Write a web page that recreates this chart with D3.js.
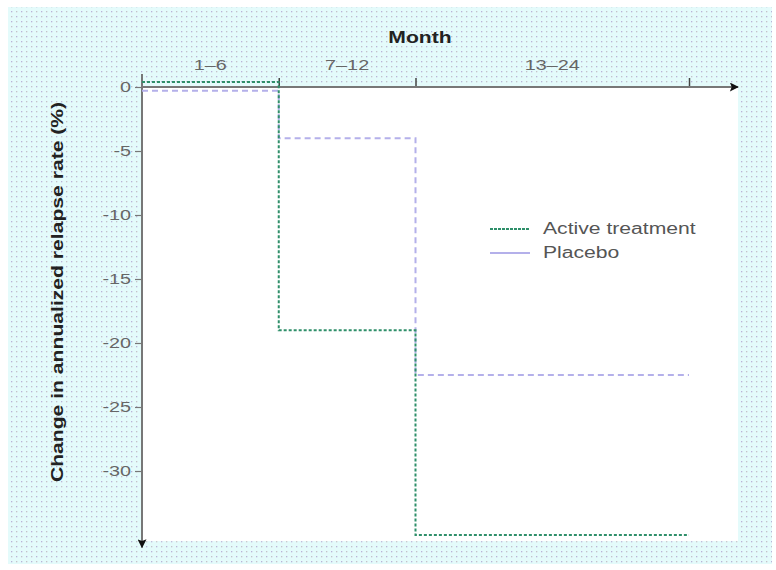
<!DOCTYPE html>
<html><head><meta charset="utf-8">
<script src="https://cdn.jsdelivr.net/npm/d3@7/dist/d3.min.js"></script>
<style>body{margin:0;background:#fff}svg{display:block}</style>
</head><body><svg id="c" width="776" height="570"></svg>
<script>
const periodBounds = [0, 6, 12, 24];
const periodLabels = ["1–6", "7–12", "13–24"];
const activeValues = [0.4, -19, -35];
const placeboValues = [-0.3, -4, -22.5];
const yTicks = [0, -5, -10, -15, -20, -25, -30];
const seriesNames = ["Active treatment", "Placebo"];

const svg = d3.select("#c");
const font = "'Liberation Sans', Arial, sans-serif";
const defs = svg.append("defs");
const pat = defs.append("pattern").attr("id","dots").attr("patternUnits","userSpaceOnUse")
  .attr("width",10).attr("height",10);
pat.append("rect").attr("width",10).attr("height",10).attr("fill","#e4fbfb");
pat.append("rect").attr("x",1).attr("y",1).attr("width",1.3).attr("height",1.3).attr("fill","#b9b2d8");
pat.append("rect").attr("x",6).attr("y",1).attr("width",1.3).attr("height",1.3).attr("fill","#c4c2c8");
pat.append("rect").attr("x",1).attr("y",6).attr("width",1.3).attr("height",1.3).attr("fill","#c4c2c8");
pat.append("rect").attr("x",6).attr("y",6).attr("width",1.3).attr("height",1.3).attr("fill","#b9b2d8");
defs.append("marker").attr("id","arr2").attr("viewBox","0 0 10 10").attr("refX",9).attr("refY",5)
  .attr("markerWidth",14).attr("markerHeight",9).attr("markerUnits","userSpaceOnUse").attr("orient","auto")
  .append("path").attr("d","M0,0L10,5L0,10L2,5Z").attr("fill","#111");

svg.append("rect").attr("x",8).attr("y",7).attr("width",764).attr("height",557).attr("fill","url(#dots)");

const x = d3.scaleLinear().domain([0,24]).range([142,689]);
const y = d3.scaleLinear().domain([0,-35]).range([87,535]);

svg.append("rect").attr("x",x(0)).attr("y",y(0)+1).attr("width",596).attr("height",y(-35.4)-y(0)).attr("fill","#fff");

// y axis
const ya = svg.append("g").attr("transform",`translate(${x(0)},0)`)
  .call(d3.axisLeft(y).tickValues(yTicks).tickSize(7).tickPadding(4).tickFormat(d=>d));
ya.select(".domain").remove();
ya.selectAll(".tick line").attr("stroke","#777").attr("stroke-width",1.2);
ya.selectAll(".tick text").attr("fill","#666").attr("font-size",15).attr("font-family",font);
svg.append("line").attr("x1",x(0)).attr("x2",x(0)).attr("y1",74).attr("y2",y(-35.5)+6)
  .attr("stroke","#777").attr("stroke-width",2).attr("marker-end","url(#arr2)");

// x axis
const xa = svg.append("g").attr("transform",`translate(0,${y(0)})`)
  .call(d3.axisTop(x).tickValues(periodBounds.slice(1)).tickSize(9).tickFormat(""));
xa.select(".domain").remove();
xa.selectAll(".tick line").attr("stroke","#444").attr("stroke-width",1.5);
svg.append("line").attr("x1",x(0)).attr("x2",738).attr("y1",y(0)).attr("y2",y(0))
  .attr("stroke","#777").attr("stroke-width",2).attr("marker-end","url(#arr2)");
svg.append("g").selectAll("text").data(periodLabels).join("text")
  .attr("x",(d,i)=>(x(periodBounds[i])+x(periodBounds[i+1]))/2).attr("y",70)
  .attr("text-anchor","middle").attr("fill","#666").attr("font-size",15).attr("font-family",font).text(d=>d);
svg.append("text").attr("x",420).attr("y",43).attr("text-anchor","middle").attr("font-weight","bold")
  .attr("fill","#222").attr("font-size",16).attr("font-family",font).text("Month");
svg.append("text").attr("transform","translate(63,292) rotate(-90)").attr("text-anchor","middle")
  .attr("font-weight","bold").attr("fill","#222").attr("font-size",16).attr("font-family",font)
  .text("Change in annualized relapse rate (%)");

function stepPts(vals){ const p = vals.map((v,i)=>[periodBounds[i],v]); p.push([periodBounds[vals.length], vals[vals.length-1]]); return p; }
const line = d3.line().x(d=>x(d[0])).y(d=>y(d[1])).curve(d3.curveStepAfter);
const colors = ["#2f8f6a","#b4b0ea"];
const dashes = ["3,2","6,4"];
[placeboValues, activeValues].forEach((vals,k)=>{
  const idx = k===0?1:0;
  svg.append("path").attr("d",line(stepPts(vals))).attr("fill","none")
    .attr("stroke",colors[idx]).attr("stroke-width",2).attr("stroke-dasharray",dashes[idx]);
});

// legend
const lg = svg.append("g");
seriesNames.forEach((n,i)=>{
  const ly = 229 + i*24;
  lg.append("line").attr("x1",490).attr("x2",530).attr("y1",ly).attr("y2",ly)
    .attr("stroke",colors[i]).attr("stroke-width",2).attr("stroke-dasharray",i===0?"3,1":"none");
  lg.append("text").attr("x",543).attr("y",ly+5).attr("fill","#555").attr("font-size",16)
    .attr("font-family",font).text(n);
});

// horizontal stretch of all text to match the wide lettering of the original
svg.selectAll("text").each(function(){
  const w = this.getComputedTextLength();
  d3.select(this).attr("textLength", w*1.32).attr("lengthAdjust","spacingAndGlyphs");
});
</script></body></html>
